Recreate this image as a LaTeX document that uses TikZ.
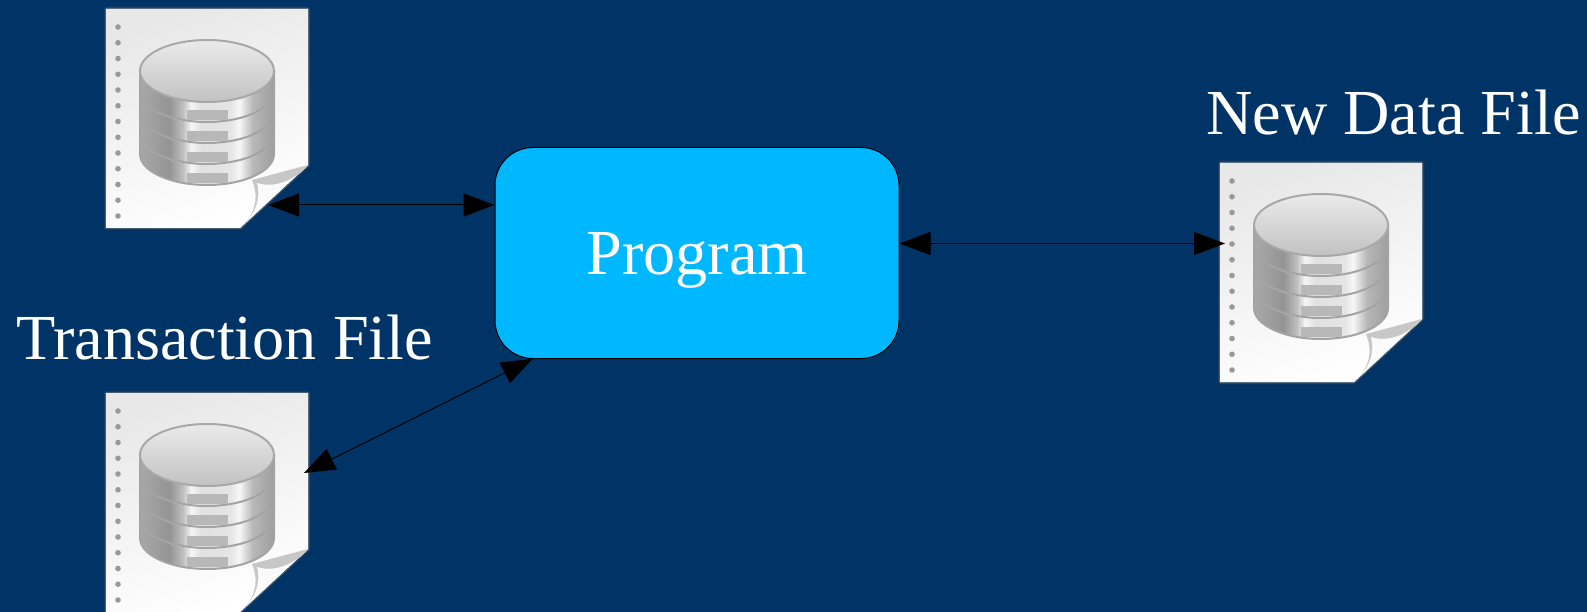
\documentclass[tikz,border=0pt]{standalone}
\usepackage{xcolor}
\usepackage{fontspec}
\setmainfont{Liberation Serif}
\usetikzlibrary{arrows.meta}

\definecolor{bgblue}{HTML}{003366}
\definecolor{boxblue}{HTML}{00B8FF}

\pgfdeclarehorizontalshading{discshade}{100bp}{
  color(0bp)=(black!34); color(25bp)=(black!34); color(36bp)=(black!42);
  color(41bp)=(black!25); color(44bp)=(black!4); color(48bp)=(black!12);
  color(59bp)=(black!10); color(62bp)=(black!3); color(67bp)=(black!28);
  color(75bp)=(black!38); color(100bp)=(black!38)}

\tikzset{
  biarrow/.style={black,line width=1pt,{Triangle[length=31pt,width=23pt]}-{Triangle[length=31pt,width=23pt]}},
  labeltext/.style={text=white,font=\fontsize{64.2}{70}\selectfont,inner sep=0pt},
  sheetpath/.style={line join=round},
  pics/dbfile/.style={code={
    % Soft edge of the sheet
    \draw[sheetpath,line width=5pt,black!70,opacity=.2]
      (0,0) -- (202,0) -- (202,156) -- (134,219) -- (0,219) -- cycle;
    \draw[sheetpath,line width=2.5pt,black!40,opacity=.4]
      (0,0) -- (202,0) -- (202,156) -- (134,219) -- (0,219) -- cycle;
    % Sheet
    \shade[top color=black!9,bottom color=white,shading angle=20]
      (0,0) -- (202,0) -- (202,156) -- (134,219) -- (0,219) -- cycle;
    \fill[black!22] (134,219) .. controls (150,205) and (153,188) .. (146,171) -- (202,156) -- cycle;
    \shade[top color=black!3,bottom color=white] (134,219) .. controls (150,205) and (155,190) .. (151,174)
      .. controls (170,180) and (190,170) .. (202,156) -- cycle;
    % Binding holes
    \foreach \k in {0,...,12}
      \fill[black!40] (12,{18+15.75*\k}) circle (2.8);
    % Discs, lowest first
    \foreach \k in {3,2,1,0} {
      \shade[shading=discshade]
        (34,{62+21*\k}) arc[start angle=180,end angle=0,x radius=67,y radius=31]
        -- (168,{82+21*\k}) arc[start angle=0,end angle=180,x radius=67,y radius=31] -- cycle;
      \draw[black!36,line width=2pt]
        (34,{62+21*\k}) -- (34,{82+21*\k}) arc[start angle=180,end angle=0,x radius=67,y radius=31] -- (168,{62+21*\k});
      \fill[black!28] (81,{101+21*\k}) rectangle (122,{111+21*\k});
    }
    % Top of the stack
    \draw[black!34,line width=2pt,top color=black!8,bottom color=black!24]
      (101,62) ellipse[x radius=67,y radius=31];
    \coordinate (-corner) at (162,196);
    \coordinate (-edge) at (198,80);
    \coordinate (-side) at (5,80);
  }}
}

\begin{document}
\begin{tikzpicture}[x=1pt,y=-1pt]
    % Background
    \fill[bgblue] (0,0) rectangle (1587,612);
    \useasboundingbox (0,0) rectangle (1587,612);

    % Files
    \pic (master) at (106,9) {dbfile};
    \pic (trans) at (106,393) {dbfile};
    \pic (newdata) at (1220,163) {dbfile};

    % Program box
    \node[draw=black,line width=1pt,fill=boxblue,rounded corners=38pt,minimum width=404pt,minimum height=211pt,
      labeltext,text height=44pt,text depth=0pt] (program) at (697,253) {Program};

    % Labels
    \node[labeltext,anchor=base west] (translabel) at (16,359) {Transaction File};
    \node[labeltext,anchor=base west] (newlabel) at (1206,134.5) {New Data File};

    % Connectors
    \coordinate (progport) at ([yshift=9.5pt]program.east);
    \draw[biarrow] (master-corner) -- (master-corner -| program.west);
    \draw[biarrow] (trans-edge) -- ([xshift=38pt]program.south west);
    \draw[biarrow] (progport) -- (newdata-side |- progport);
\end{tikzpicture}
\end{document}
